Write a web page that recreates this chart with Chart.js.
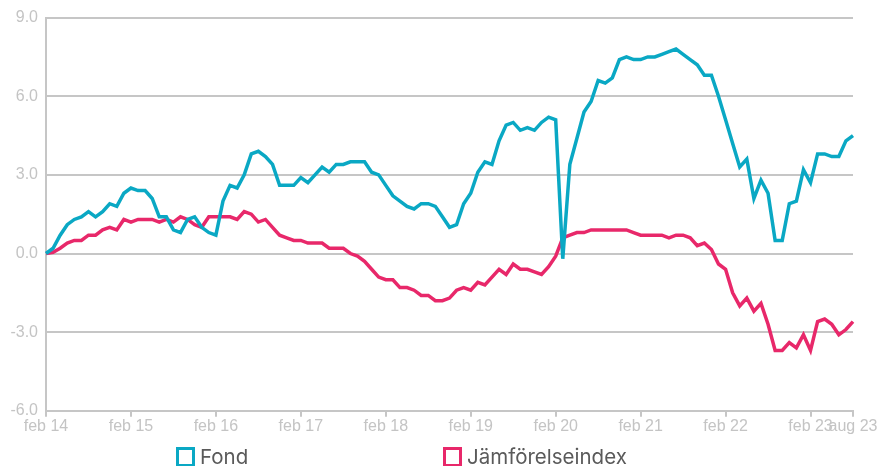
<!DOCTYPE html>
<html>
<head>
<meta charset="utf-8">
<script src="https://cdn.jsdelivr.net/npm/chart.js@4.4.1/dist/chart.umd.min.js"></script>
<style>
    body { margin: 0; background: #fff; }
    #wrap { position: relative; width: 880px; height: 466px; }
    #legend { position: absolute; top: 444px; left: 0; width: 880px; height: 22px;
              font-family: Inter, "Liberation Sans", sans-serif; font-size: 20.5px; color: #5a5a5a; }
    .item { position: absolute; top: 0; display: flex; align-items: center; }
    .box { display: inline-block; width: 13px; height: 14px; border: 3px solid; background: #fff; margin-right: 5px; }
</style>
</head>
<body>
<div id="wrap">
    <canvas id="myChart" width="880" height="466"></canvas>
    <div id="legend">
        <div class="item" style="left:176px"><span class="box" style="border-color:#0aa8c4"></span>Fond</div>
        <div class="item" style="left:443px"><span class="box" style="border-color:#e8286a"></span>Jämförelseindex</div>
    </div>
</div>
<script>
// månadsvärden feb 2014 - aug 2023, avkastning i procent
let fond = [
    0.0, 0.2, 0.7, 1.1, 1.3, 1.4, 1.6, 1.4, 1.6, 1.9, 1.8, 2.3,
    2.5, 2.4, 2.4, 2.1, 1.4, 1.4, 0.9, 0.8, 1.3, 1.4, 1.0, 0.8,
    0.7, 2.0, 2.6, 2.5, 3.0, 3.8, 3.9, 3.7, 3.4, 2.6, 2.6, 2.6,
    2.9, 2.7, 3.0, 3.3, 3.1, 3.4, 3.4, 3.5, 3.5, 3.5, 3.1, 3.0,
    2.6, 2.2, 2.0, 1.8, 1.7, 1.9, 1.9, 1.8, 1.4, 1.0, 1.1, 1.9,
    2.3, 3.1, 3.5, 3.4, 4.3, 4.9, 5.0, 4.7, 4.8, 4.7, 5.0, 5.2,
    5.1, -0.2, 3.4, 4.4, 5.4, 5.8, 6.6, 6.5, 6.7, 7.4, 7.5, 7.4,
    7.4, 7.5, 7.5, 7.6, 7.7, 7.8, 7.6, 7.4, 7.2, 6.8, 6.8, 6.0,
    5.1, 4.2, 3.3, 3.6, 2.1, 2.8, 2.3, 0.5, 0.5, 1.9, 2.0, 3.2,
    2.7, 3.8, 3.8, 3.7, 3.7, 4.3, 4.5
];
let index = [
    0.0, 0.05, 0.2, 0.4, 0.5, 0.5, 0.7, 0.7, 0.9, 1.0, 0.9, 1.3,
    1.2, 1.3, 1.3, 1.3, 1.2, 1.3, 1.2, 1.4, 1.3, 1.1, 1.0, 1.4,
    1.4, 1.4, 1.4, 1.3, 1.6, 1.5, 1.2, 1.3, 1.0, 0.7, 0.6, 0.5,
    0.5, 0.4, 0.4, 0.4, 0.2, 0.2, 0.2, 0.0, -0.1, -0.3, -0.6, -0.9,
    -1.0, -1.0, -1.3, -1.3, -1.4, -1.6, -1.6, -1.8, -1.8, -1.7, -1.4, -1.3,
    -1.4, -1.1, -1.2, -0.9, -0.6, -0.8, -0.4, -0.6, -0.6, -0.7, -0.8, -0.5,
    -0.1, 0.6, 0.7, 0.8, 0.8, 0.9, 0.9, 0.9, 0.9, 0.9, 0.9, 0.8,
    0.7, 0.7, 0.7, 0.7, 0.6, 0.7, 0.7, 0.6, 0.3, 0.4, 0.15, -0.4,
    -0.6, -1.5, -2.0, -1.7, -2.2, -1.9, -2.7, -3.7, -3.7, -3.4, -3.6, -3.1,
    -3.7, -2.6, -2.5, -2.7, -3.1, -2.9, -2.6
];
let monthNames = ['jan', 'feb', 'mar', 'apr', 'maj', 'jun', 'jul', 'aug', 'sep', 'okt', 'nov', 'dec'];
let yTicks = [-6, -3, 0, 3, 6, 9];

// kategorier: feb 14 .. aug 23
let months = [];
for (let i = 0; i < fond.length; i++) {
    let m = (1 + i) % 12;
    let yr = 14 + Math.floor((1 + i) / 12);
    months.push(monthNames[m] + ' ' + yr);
}

let gridColor = '#c6c6c6';
let tickColor = '#c4c4c4';

let ctx = document.getElementById('myChart').getContext('2d');
new Chart(ctx, {
    type: 'line',
    data: {
        labels: months,
        datasets: [{
            label: 'Fond',
            data: fond,
            borderColor: '#0aa8c4',
            backgroundColor: '#0aa8c4',
            borderWidth: 3.5,
            pointRadius: 0,
            tension: 0
        }, {
            label: 'Jämförelseindex',
            data: index,
            borderColor: '#e8286a',
            backgroundColor: '#e8286a',
            borderWidth: 3.5,
            pointRadius: 0,
            tension: 0
        }]
    },
    options: {
        responsive: false,
        animation: false,
        layout: { padding: { top: 11, right: 27, bottom: 30, left: 0 } },
        plugins: {
            legend: { display: false },
            tooltip: { enabled: false }
        },
        scales: {
            x: {
                grid: { display: true, drawOnChartArea: false, drawTicks: true, tickLength: 6, color: gridColor, lineWidth: 2 },
                border: { display: true, color: gridColor, width: 2 },
                ticks: {
                    autoSkip: false,
                    maxRotation: 0,
                    padding: 0,
                    color: tickColor,
                    font: { family: 'Liberation Sans', size: 16 },
                    callback: function(val, i) {
                        let lbl = months[i];
                        if (lbl.startsWith('feb') || i === months.length - 1) return lbl;
                        return null;
                    }
                }
            },
            y: {
                min: -6,
                max: 9,
                afterBuildTicks: function(axis) { axis.ticks = yTicks.map(v => ({ value: v })); },
                afterFit: function(axis) { axis.width = 46; },
                grid: { color: gridColor, lineWidth: 2, drawTicks: false },
                border: { display: true, color: gridColor, width: 2 },
                ticks: {
                    padding: 8,
                    color: tickColor,
                    font: { family: 'Liberation Sans', size: 16 },
                    callback: function(v) { return v.toFixed(1); }
                }
            }
        }
    }
});
</script>
</body>
</html>
